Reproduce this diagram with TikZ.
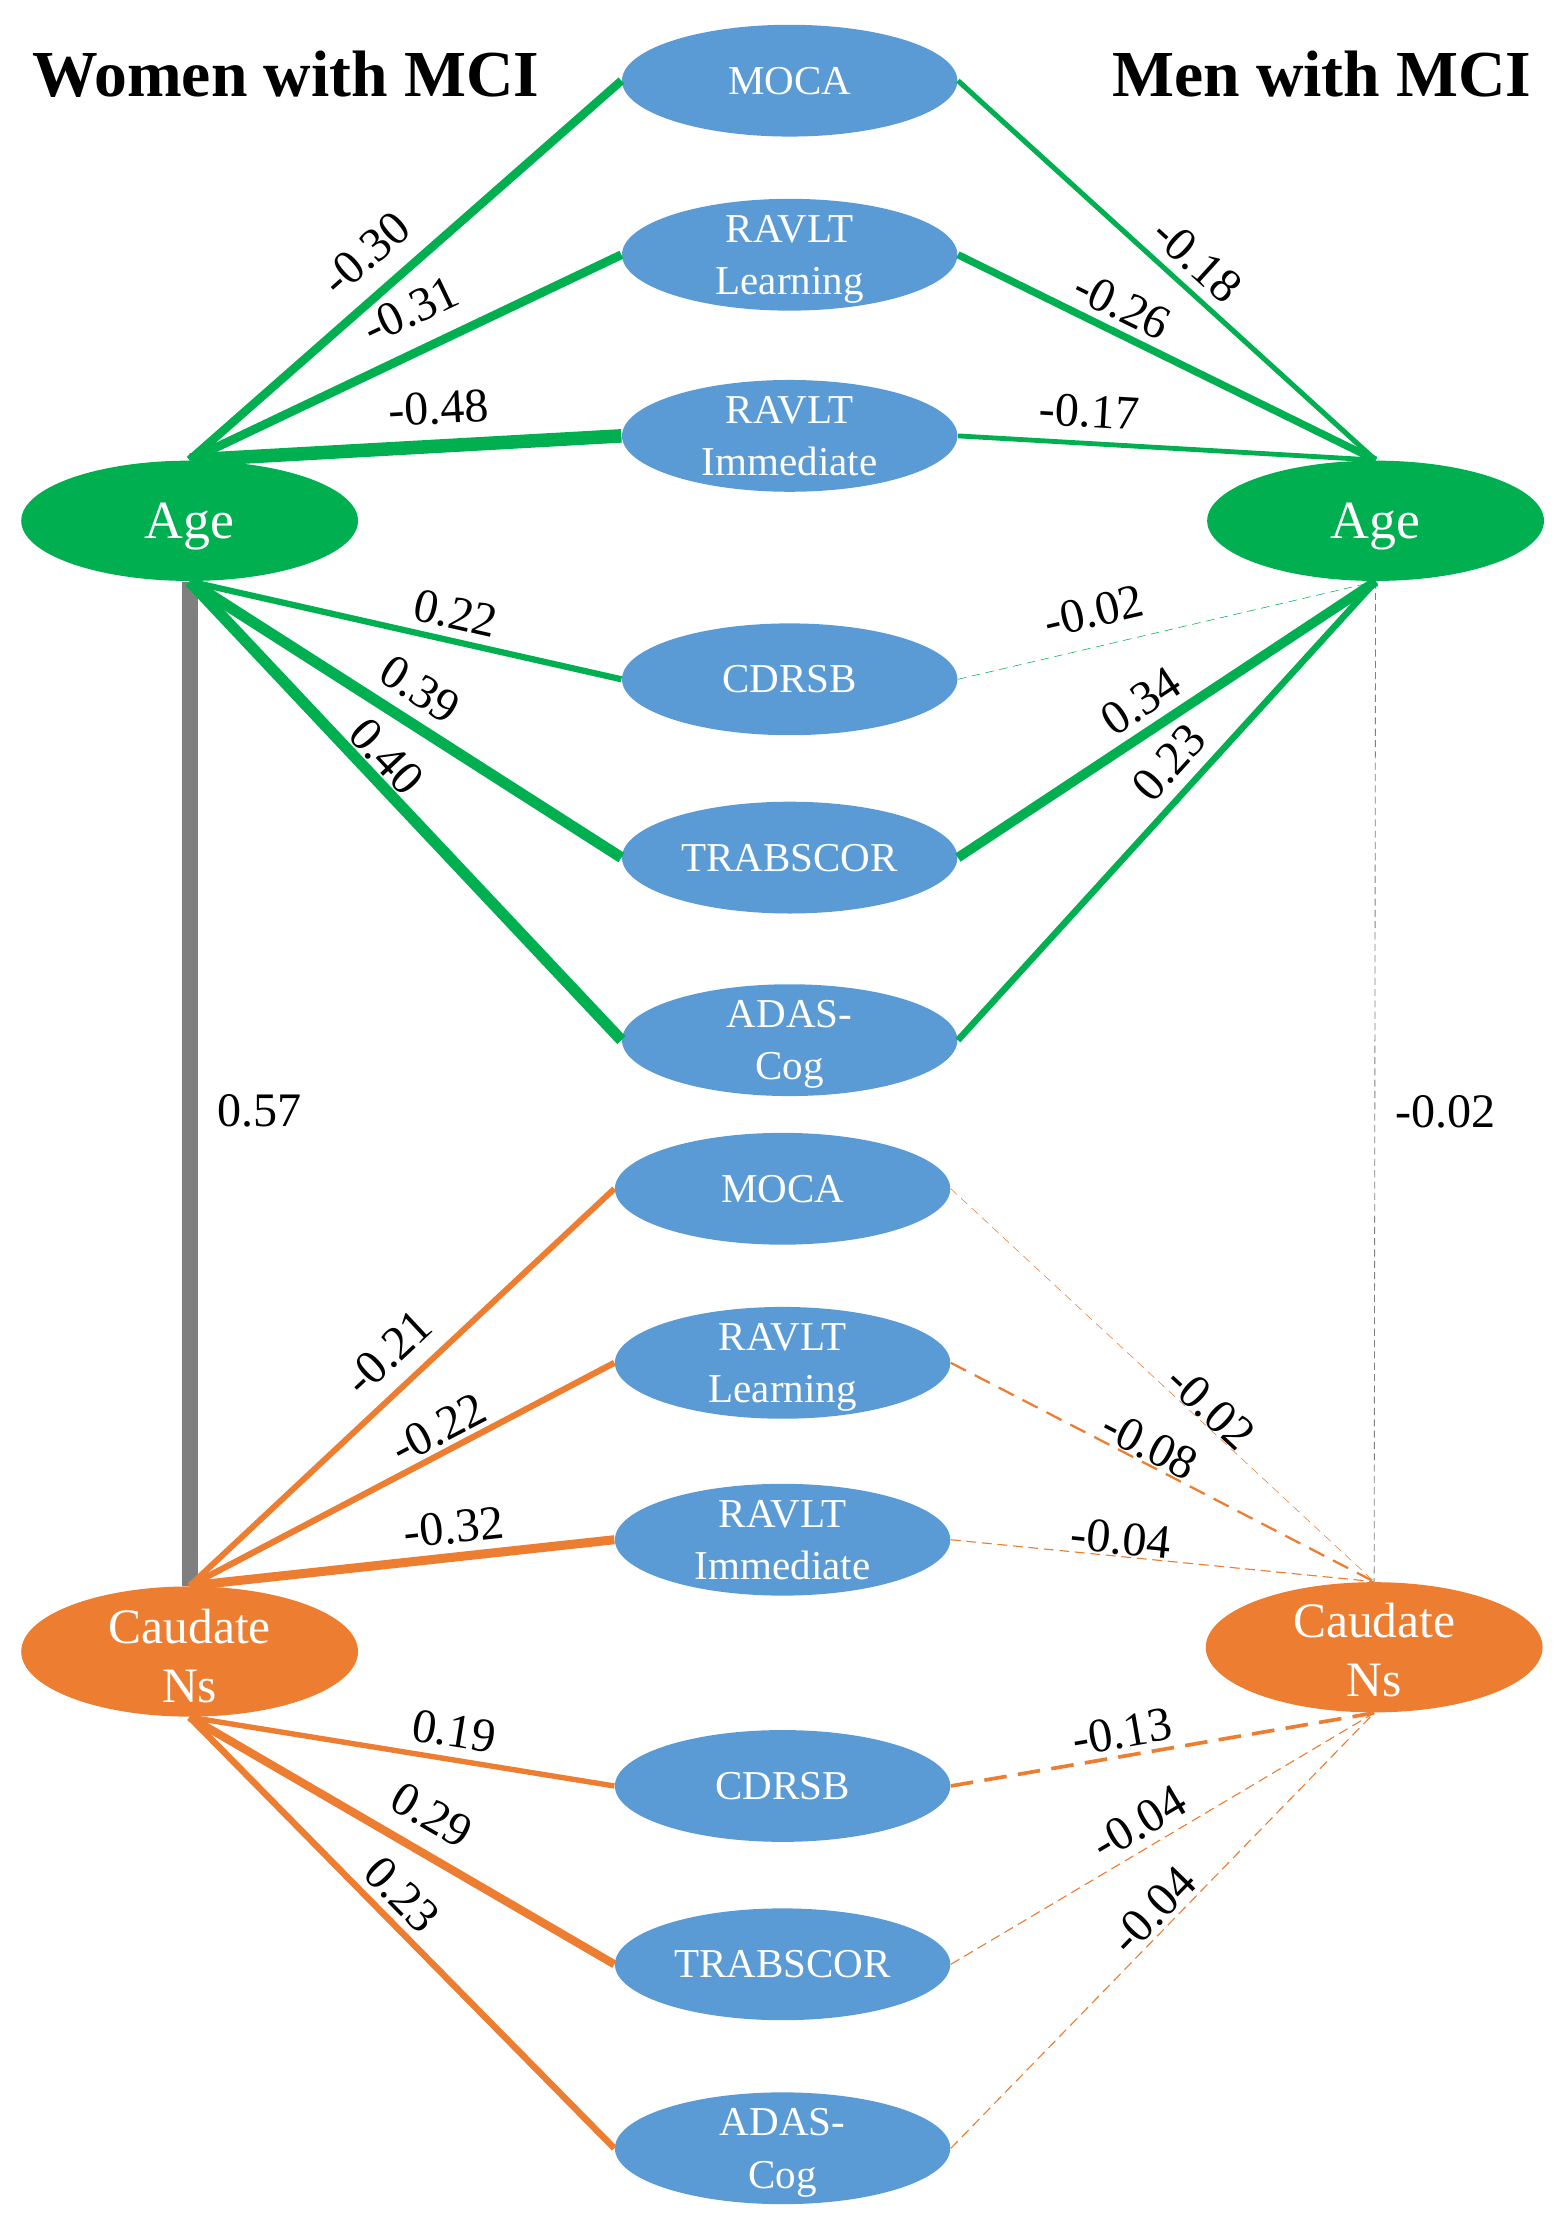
\documentclass[tikz,border=0pt]{standalone}
\usepackage{fontspec}
\setmainfont{Liberation Serif}
\usetikzlibrary{shapes.geometric}
\definecolor{agegreen}{HTML}{00B050}
\definecolor{cdnorange}{HTML}{ED7D31}
\definecolor{testblue}{HTML}{5B9BD5}
\definecolor{bargray}{HTML}{7F7F7F}

\begin{document}
\begin{tikzpicture}[x=0.5pt, y=-0.5pt,
	testnode/.style={ellipse, fill=testblue, text=white, minimum width=118.5pt, minimum height=39.5pt, inner sep=-6pt, text depth=0pt, align=center, font=\fontsize{14.5}{18.5}\selectfont},
	factor/.style={ellipse, text=white, minimum width=119pt, inner sep=-6pt, text depth=0pt, align=center},
	coef/.style={sloped, above, inner sep=#1, font=\fontsize{17}{20}\selectfont},
	coef/.default=3pt,
	coefv/.style={right=4pt, inner sep=3pt, font=\fontsize{17}{20}\selectfont},
	grn/.style={draw=agegreen, line width=#1},
	org/.style={draw=cdnorange, line width=#1},
	nsthin/.style={dash pattern=on 3pt off 2pt},
	]
			%%%%% START %%%%%
			\useasboundingbox (0,0) rectangle (1100,1568);
			
			\node[anchor=base, font=\bfseries\fontsize{23.2}{28}\selectfont] (titleW) at (202,68) {Women with MCI};
			\node[anchor=base, font=\bfseries\fontsize{23.2}{28}\selectfont] (titleM) at (934,68) {Men with MCI};
			
			% latent factors
			\node[factor, fill=agegreen, minimum height=42.5pt, font=\fontsize{19}{22}\selectfont] (ageW) at (134,368) {Age};
			\node[factor, fill=agegreen, minimum height=42.5pt, font=\fontsize{19}{22}\selectfont] (ageM) at (972,368) {Age};
			\node[factor, fill=cdnorange, minimum height=46pt, font=\fontsize{17.5}{21}\selectfont] (cauW) at (134,1167) {\rule{0pt}{15pt}Caudate\\Ns};
			\node[factor, fill=cdnorange, minimum height=46pt, font=\fontsize{17.5}{21}\selectfont] (cauM) at (971,1164) {\rule{0pt}{14pt}Caudate\\Ns};
			
			% cognitive tests, age block
			\node[testnode] (mocaA) at (558,57) {MOCA};
			\node[testnode] (learnA) at (558,180) {RAVLT\\Learning};
			\node[testnode] (immA) at (558,308) {RAVLT\\Immediate};
			\node[testnode] (cdrA) at (558,480) {CDRSB};
			\node[testnode] (trabA) at (558,606) {TRABSCOR};
			\node[testnode] (adasA) at (558,735) {ADAS-\\Cog};
			
			% cognitive tests, caudate block
			\node[testnode] (mocaC) at (553,840) {MOCA};
			\node[testnode] (learnC) at (553,963) {RAVLT\\Learning};
			\node[testnode] (immC) at (553,1088) {RAVLT\\Immediate};
			\node[testnode] (cdrC) at (553,1262) {CDRSB};
			\node[testnode] (trabC) at (553,1388) {TRABSCOR};
			\node[testnode] (adasC) at (553,1518) {ADAS-\\Cog};
			
			% age <-> caudate
			\draw[draw=bargray, line width=5.7pt] (ageW.south) -- (cauW.north) node[coefv, pos=0.527] {0.57};
			\draw[draw=bargray, line width=0.3pt, dash pattern=on 2.5pt off 1.5pt] (ageM.south) -- (cauM.north) node[coefv, pos=0.53] {-0.02};
			
			% women, age
			\draw[grn=3pt] (ageW.north) -- (mocaA.west) node[coef=6.5pt, pos=0.467] {-0.30};
			\draw[grn=3.1pt] (ageW.north) -- (learnA.west) node[coef=7pt, pos=0.552] {-0.31};
			\draw[grn=4.8pt] (ageW.north) -- (immA.west) node[coef=5.3pt, pos=0.582] {-0.48};
			\draw[grn=2.2pt] (ageW.south) -- (cdrA.west) node[coef=3pt, pos=0.602] {0.22};
			\draw[grn=3.9pt] (ageW.south) -- (trabA.west) node[coef=4pt, pos=0.492] {0.39};
			\draw[grn=4pt] (ageW.south) -- (adasA.west) node[coef=0.5pt, pos=0.416] {0.40};
			
			% men, age
			\draw[grn=1.8pt] (mocaA.east) -- (ageM.north) node[coef=3.3pt, pos=0.528] {-0.18};
			\draw[grn=2.6pt] (learnA.east) -- (ageM.north) node[coef=2.5pt, pos=0.365] {-0.26};
			\draw[grn=1.7pt] (immA.east) -- (ageM.north) node[coef=4.7pt, pos=0.311] {-0.17};
			\draw[grn=0.2pt, nsthin] (cdrA.east) -- (ageM.south) node[coef=6.5pt, pos=0.345] {-0.02};
			\draw[grn=3.4pt] (trabA.east) -- (ageM.south) node[coef=3pt, pos=0.477] {0.34};
			\draw[grn=2.3pt] (adasA.east) -- (ageM.south) node[coef=3.9pt, pos=0.56] {0.23};
			
			% women, caudate
			\draw[org=2.1pt] (cauW.north) -- (mocaC.west) node[coef=5.5pt, pos=0.523] {-0.21};
			\draw[org=2.2pt] (cauW.north) -- (learnC.west) node[coef=1.5pt, pos=0.611] {-0.22};
			\draw[org=3.2pt] (cauW.north) -- (immC.west) node[coef=3.1pt, pos=0.629] {-0.32};
			\draw[org=1.9pt] (cauW.south) -- (cdrC.west) node[coef=3.3pt, pos=0.612] {0.19};
			\draw[org=2.9pt] (cauW.south) -- (trabC.west) node[coef=5.8pt, pos=0.526] {0.29};
			\draw[org=2.3pt] (cauW.south) -- (adasC.west) node[coef=2.6pt, pos=0.455] {0.23};
			
			% men, caudate
			\draw[org=0.2pt, nsthin] (mocaC.east) -- (cauM.north) node[coef=0pt, pos=0.587] {-0.02};
			\draw[org=0.8pt, dash pattern=on 6pt off 3.5pt] (learnC.east) -- (cauM.north) node[coef=0.3pt, pos=0.45] {-0.08};
			\draw[org=0.4pt, dash pattern=on 3.5pt off 2pt] (immC.east) -- (cauM.north) node[coef=0.3pt, pos=0.397] {-0.04};
			\draw[org=1.3pt, dash pattern=on 8pt off 4pt] (cdrC.east) -- (cauM.south) node[coef=2.1pt, pos=0.414] {-0.13};
			\draw[org=0.4pt, dash pattern=on 3.5pt off 2pt] (trabC.east) -- (cauM.south) node[coef=3.2pt, pos=0.475] {-0.04};
			\draw[org=0.4pt, dash pattern=on 3.5pt off 2pt] (adasC.east) -- (cauM.south) node[coef=1.5pt, pos=0.513] {-0.04};
			
			%%%%% END %%%%%
\end{tikzpicture}
\end{document}
